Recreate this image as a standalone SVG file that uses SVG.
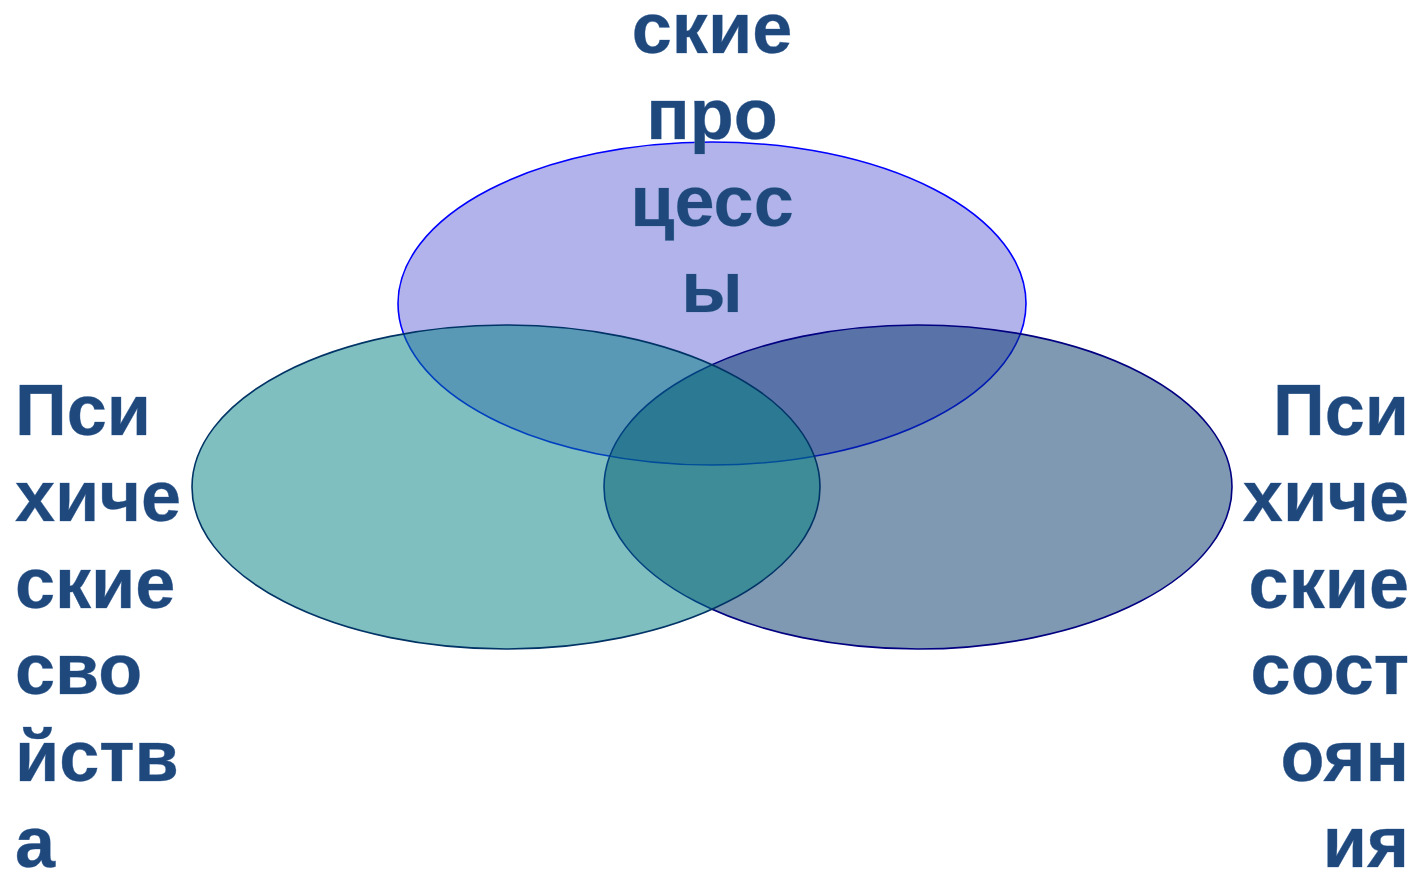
<svg xmlns="http://www.w3.org/2000/svg" width="1420" height="870" viewBox="0 0 1420 870">
<style>
.lbl{font-family:"Liberation Sans",Arial,sans-serif;font-weight:bold;font-size:72px;fill:#1f497d;stroke:#7f9bc2;stroke-width:0.6px;paint-order:stroke}
.ell{stroke-width:1.6px}
</style>
<rect width="1420" height="870" fill="#ffffff"/>
<g id="shapes">
<g id="node-top"><ellipse class="ell" cx="712" cy="303.5" rx="314" ry="161.5" fill="#6767d9" fill-opacity="0.5" stroke="#0000ff"/></g>
<g id="node-right"><ellipse class="ell" cx="918" cy="487" rx="314" ry="162" fill="#003366" fill-opacity="0.5" stroke="#000080"/></g>
<g id="node-left"><ellipse class="ell" cx="506" cy="487" rx="314" ry="162" fill="#008080" fill-opacity="0.5" stroke="#003366"/></g>
</g>
<g id="connectors"></g>
<g id="label-top" text-anchor="middle">
<text class="lbl" x="712" y="53">ские</text>
<text class="lbl" x="712" y="139">про</text>
<text class="lbl" x="712" y="226">цесс</text>
<text class="lbl" x="712" y="312">ы</text>
</g>
<g id="label-left">
<text class="lbl" x="15" y="435">Пси</text>
<text class="lbl" x="15" y="521">хиче</text>
<text class="lbl" x="15" y="608">ские</text>
<text class="lbl" x="15" y="694">сво</text>
<text class="lbl" x="15" y="781">йств</text>
<text class="lbl" x="15" y="867">а</text>
</g>
<g id="label-right" text-anchor="end">
<text class="lbl" x="1409" y="435">Пси</text>
<text class="lbl" x="1409" y="521">хиче</text>
<text class="lbl" x="1409" y="608">ские</text>
<text class="lbl" x="1409" y="694">сост</text>
<text class="lbl" x="1409" y="781">оян</text>
<text class="lbl" x="1409" y="867">ия</text>
</g>
</svg>
